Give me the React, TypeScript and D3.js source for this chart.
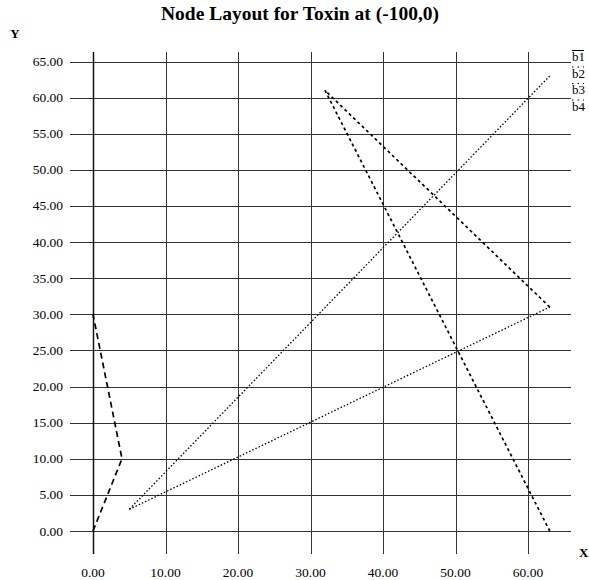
import { useEffect, useRef } from 'react';
import * as d3 from 'd3';

const xTicks = [0, 10, 20, 30, 40, 50, 60];
const yTicks = [0, 5, 10, 15, 20, 25, 30, 35, 40, 45, 50, 55, 60, 65];
const legendLabels = ['b1', 'b2', 'b3', 'b4'];

// node paths
const b1 = [[0, 0], [4, 10], [0, 30]];
const b2 = [[63, 63], [5, 3]];
const b3 = [[5, 3], [63, 31]];
const b4 = [[63, 31], [32, 61], [63, 0]];
const seriesData = [b1, b2, b3, b4];
const dashes = ['6,4', '1.5,2', '1.5,2', '3,3'];

function App() {
  const svgRef = useRef<SVGSVGElement>(null);

  useEffect(() => {
    const svg = d3.select(svgRef.current);
    svg.selectAll('*').remove();

    const width = 589;
    const height = 580;

    // 0 -> 93px, 60 -> 528px ; 0 -> 531px, 65 -> 61.5px
    const x = d3.scaleLinear().domain([0, 60]).range([93, 528]);
    const y = d3.scaleLinear().domain([0, 65]).range([531, 61.5]);

    svg.attr('width', width).attr('height', height)
      .style('font-family', '"Liberation Serif", "Times New Roman", serif');

    svg.append('rect').attr('width', width).attr('height', height).attr('fill', 'white');

    // title
    svg.append('text')
      .attr('x', 300).attr('y', 20)
      .attr('text-anchor', 'middle')
      .attr('font-size', 19.5)
      .attr('font-weight', 'bold')
      .text('Node Layout for Toxin at (-100,0)');

    svg.append('text')
      .attr('x', 15).attr('y', 38)
      .attr('text-anchor', 'middle')
      .attr('font-size', 13)
      .attr('font-weight', 'bold')
      .text('Y');

    svg.append('text')
      .attr('x', 579).attr('y', 557)
      .attr('font-size', 13)
      .attr('font-weight', 'bold')
      .text('X');

    const xMin = x.invert(70);
    const xMax = x.invert(571);
    const yMin = y.invert(554);
    const yMax = y.invert(52);

    // horizontal grid
    svg.append('g').selectAll('line')
      .data(yTicks)
      .enter()
      .append('line')
      .attr('x1', x(xMin)).attr('x2', x(xMax))
      .attr('y1', d => Math.round(y(d)) + 0.5).attr('y2', d => Math.round(y(d)) + 0.5)
      .attr('stroke', '#333')
      .attr('stroke-width', 1);

    // vertical grid
    svg.append('g').selectAll('line')
      .data(xTicks)
      .enter()
      .append('line')
      .attr('x1', d => Math.round(x(d)) + 0.5).attr('x2', d => Math.round(x(d)) + 0.5)
      .attr('y1', y(yMax)).attr('y2', y(yMin))
      .attr('stroke', d => (d === 0 ? '#111' : '#333'))
      .attr('stroke-width', d => (d === 0 ? 1.5 : 1));

    // tick labels
    svg.append('g').selectAll('text')
      .data(yTicks)
      .enter()
      .append('text')
      .attr('x', 63)
      .attr('y', d => y(d) + 4.5)
      .attr('text-anchor', 'end')
      .attr('font-size', 13.5)
      .text(d => d3.format('.2f')(d));

    svg.append('g').selectAll('text')
      .data(xTicks)
      .enter()
      .append('text')
      .attr('x', d => x(d))
      .attr('y', 577)
      .attr('text-anchor', 'middle')
      .attr('font-size', 13.5)
      .text(d => d3.format('.2f')(d));

    // series
    const line = d3.line<number[]>()
      .x(d => x(d[0]))
      .y(d => y(d[1]));

    svg.append('g').selectAll('path')
      .data(seriesData)
      .enter()
      .append('path')
      .attr('d', d => line(d))
      .attr('fill', 'none')
      .attr('stroke', '#000')
      .attr('stroke-width', (d, i) => (i === 1 || i === 2 ? 1.3 : 1.7))
      .attr('stroke-dasharray', (d, i) => dashes[i]);

    // legend
    const legend = svg.append('g').selectAll('g')
      .data(legendLabels)
      .enter()
      .append('g')
      .attr('transform', (d, i) => `translate(571, ${60 + i * 16.5})`);

    legend.append('line')
      .attr('x1', 1).attr('x2', 13)
      .attr('y1', -9.5).attr('y2', -9.5)
      .attr('stroke', '#000')
      .attr('stroke-width', 1)
      .attr('stroke-dasharray', (d, i) => (i === 0 ? null : '1.5,4'));

    legend.append('text')
      .attr('x', 1).attr('y', 1)
      .attr('font-size', 13)
      .text(d => d);
  }, []);

  return (
    <div style={{ position: 'absolute', left: 0, top: 0 }}>
      <svg ref={svgRef}></svg>
    </div>
  );
}

export default App;
